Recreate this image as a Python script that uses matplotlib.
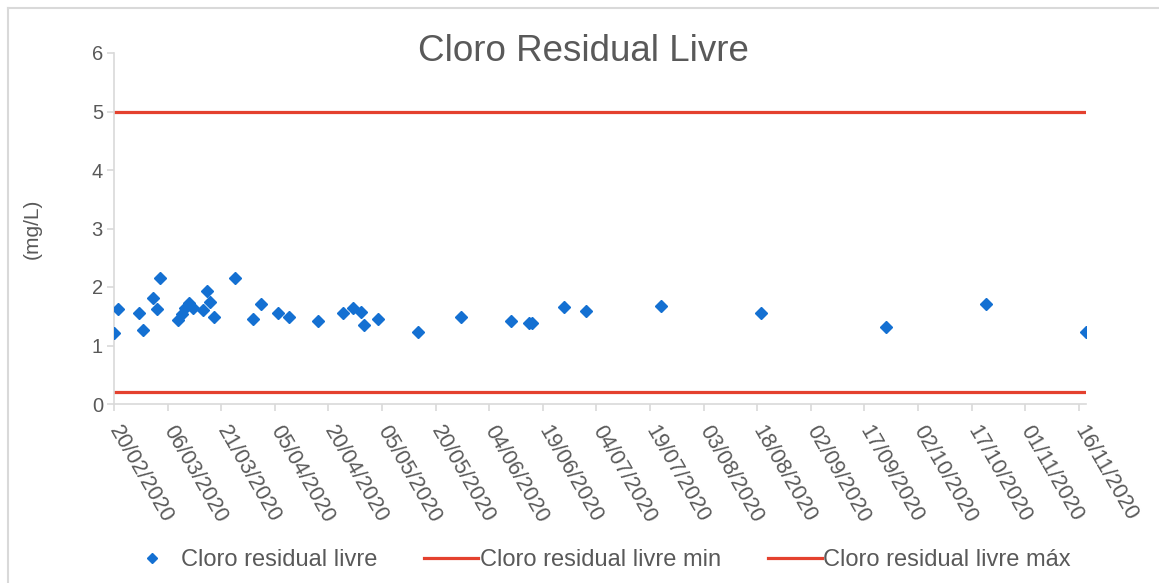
import numpy as np
import matplotlib
matplotlib.use('Agg')
import matplotlib.pyplot as plt
import matplotlib.dates as mdates
import pandas as pd
from matplotlib.lines import Line2D

# Dados
datas = ['20/02/2020', '21/02/2020', '27/02/2020', '28/02/2020', '02/03/2020',
         '03/03/2020', '04/03/2020', '09/03/2020', '10/03/2020', '11/03/2020',
         '12/03/2020', '13/03/2020', '16/03/2020', '17/03/2020', '18/03/2020',
         '19/03/2020', '25/03/2020', '30/03/2020', '01/04/2020', '06/04/2020',
         '09/04/2020', '17/04/2020', '24/04/2020', '27/04/2020', '29/04/2020',
         '30/04/2020', '04/05/2020', '15/05/2020', '27/05/2020', '10/06/2020',
         '15/06/2020', '16/06/2020', '25/06/2020', '01/07/2020', '22/07/2020',
         '19/08/2020', '23/09/2020', '21/10/2020', '18/11/2020']
cloro = [1.22, 1.62, 1.55, 1.27, 1.82,
         1.62, 2.16, 1.44, 1.54, 1.64,
         1.72, 1.64, 1.61, 1.94, 1.74,
         1.48, 2.16, 1.45, 1.71, 1.55,
         1.48, 1.42, 1.56, 1.64, 1.58,
         1.35, 1.45, 1.23, 1.48, 1.42,
         1.39, 1.39, 1.66, 1.59, 1.68,
         1.55, 1.32, 1.71, 1.23]
cloro_min = 0.2
cloro_max = 5.0
ticks_x = pd.date_range('2020-02-20', '2020-11-16', freq='15D')
ticks_y = [0, 1, 2, 3, 4, 5, 6]

datas = pd.to_datetime(datas, dayfirst=True)

plt.rcParams['font.family'] = ['Liberation Sans', 'DejaVu Sans']
cinza = '#595959'
azul = '#1470d2'
vermelho = '#e4412e'
eixo = '#d9d9d9'

fig = plt.figure(figsize=(11.59, 5.83), dpi=100)
ax = fig.add_axes([114 / 1159, 1 - 404 / 583, (1086 - 114) / 1159, (404 - 53) / 583])

ax.plot(datas, cloro, linestyle='none', marker='D', markersize=6,
        color=azul, label='Cloro residual livre', zorder=3)
ax.plot(datas, [cloro_min] * len(datas), color=vermelho, lw=2.3,
        label='Cloro residual livre min')
ax.plot(datas, [cloro_max] * len(datas), color=vermelho, lw=2.3,
        label='Cloro residual livre máx')

ax.set_xlim(datas[0], datas[-1])
ax.set_ylim(0, 6)
ax.set_yticks(ticks_y)
ax.set_xticks(ticks_x)
ax.set_xticklabels([d.strftime('%d/%m/%Y') for d in ticks_x], rotation=-60,
                   ha='left', va='center', rotation_mode='anchor')

for s in ['top', 'right']:
    ax.spines[s].set_visible(False)
for s in ['left', 'bottom']:
    ax.spines[s].set_color(eixo)
    ax.spines[s].set_linewidth(1.2)
ax.tick_params(axis='both', colors=eixo, labelcolor=cinza, length=5, width=1.2)
ax.tick_params(axis='y', labelsize=14.5, pad=3)
ax.tick_params(axis='x', labelsize=15.5, pad=12)

ax.set_ylabel('(mg/L)', fontsize=15, color=cinza, labelpad=36)
fig.text(0.503, 0.896, 'Cloro Residual Livre', fontsize=26.5, color=cinza,
         ha='center', va='baseline')

handles = [Line2D([], [], linestyle='none', marker='D', markersize=5.5, color=azul),
           Line2D([], [], color=vermelho, lw=2.3),
           Line2D([], [], color=vermelho, lw=2.3)]
leg = fig.legend(handles, ['Cloro residual livre', 'Cloro residual livre min',
                           'Cloro residual livre máx'],
                 loc='center', bbox_to_anchor=(0.516, 0.039), ncol=3, frameon=False,
                 fontsize=17, handlelength=2.3, handletextpad=0.05, columnspacing=2.0,
                 labelcolor=cinza)

# moldura do gráfico
fig.add_artist(Line2D([8 / 1159, 8 / 1159], [0, 1 - 8 / 583], color=eixo, lw=1.5,
                      transform=fig.transFigure))
fig.add_artist(Line2D([8 / 1159, 1], [1 - 8 / 583, 1 - 8 / 583], color=eixo, lw=1.5,
                      transform=fig.transFigure))

fig.savefig('out.png', dpi=100)
